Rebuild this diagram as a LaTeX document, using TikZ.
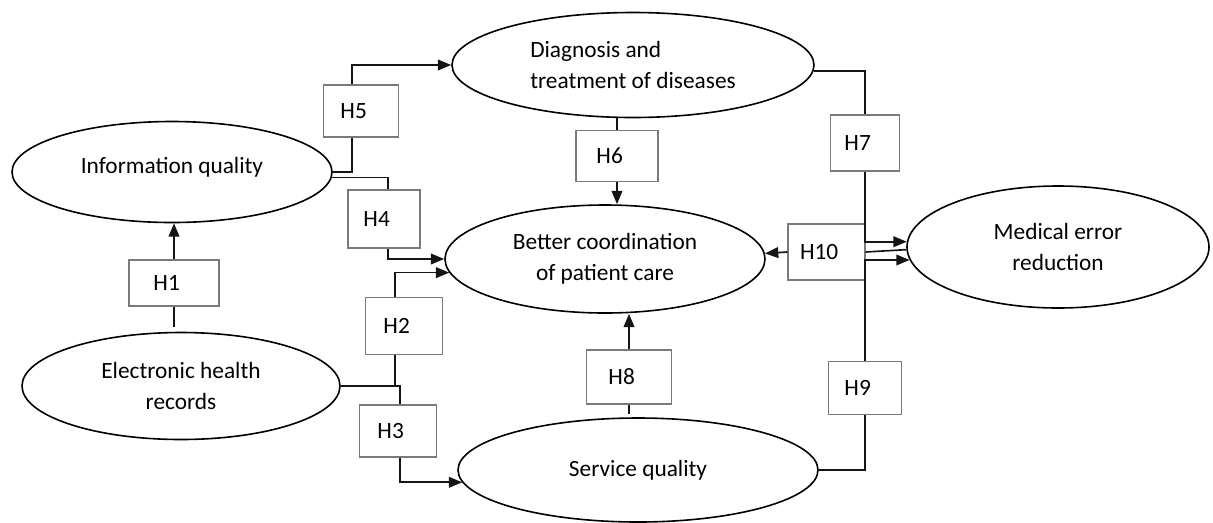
\documentclass[tikz,border=0pt]{standalone}
\usepackage{fontspec}
\setmainfont{Carlito}
\usetikzlibrary{shapes.geometric,arrows.meta,calc}
\definecolor{linec}{HTML}{151515}
\definecolor{boxc}{HTML}{7A7A7A}
\begin{document}
\begin{tikzpicture}[x=0.75pt,y=-0.75pt,
  ell/.style={ellipse,draw=black,line width=1.2pt,inner sep=0pt,align=center,font=\fontsize{17.5}{23}\selectfont},
  hbox/.style={rectangle,draw=boxc,line width=0.8pt,inner sep=0pt,font=\fontsize{17.5}{23}\selectfont,execute at end node={\hspace*{11pt}}},
  conn/.style={draw=linec,line width=1.25pt},
  arr/.style={conn,-{Triangle[length=10pt,width=8pt]}}]
\useasboundingbox (0,0) rectangle (1213,522);
% constructs
\node[ell,minimum width=240pt,minimum height=75.75pt] (iq) at (172,172) {\raisebox{10pt}{Information quality}};
\node[ell,minimum width=271.5pt,minimum height=78.75pt,align=left] (diag) at (633,65) {Diagnosis and\\treatment of diseases};
\node[ell,minimum width=240pt,minimum height=81pt] (bc) at (605,259) {Better coordination\\of patient care};
\node[ell,minimum width=226.5pt,minimum height=91.5pt] (med) at (1058,247) {Medical error\\reduction};
\node[ell,minimum width=238.5pt,minimum height=80.25pt] (ehr) at (181,386) {Electronic health\\records};
\node[ell,minimum width=270pt,minimum height=78pt] (sq) at (638,470) {Service quality};
% hypothesis boxes
\node[hbox,minimum width=67.5pt,minimum height=34.5pt] (h1) at (174,283) {H1};
\node[hbox,minimum width=57.75pt,minimum height=42.75pt] (h2) at (404,326) {H2};
\node[hbox,minimum width=57.75pt,minimum height=39pt] (h3) at (398,431) {H3};
\node[hbox,minimum width=54pt,minimum height=43.5pt] (h4) at (384,219) {H4};
\node[hbox,minimum width=56.25pt,minimum height=39pt] (h5) at (361,111) {H5};
\node[hbox,minimum width=61.5pt,minimum height=38.25pt] (h6) at (617,156) {H6};
\node[hbox,minimum width=51.75pt,minimum height=42pt] (h7) at (865,143) {H7};
\node[hbox,minimum width=63.75pt,minimum height=40.5pt] (h8) at (629,377) {H8};
\node[hbox,minimum width=54.75pt,minimum height=39.75pt] (h9) at (865,388) {H9};
\node[hbox,minimum width=57.75pt,minimum height=42pt] (h10) at (826.5,252) {H10};
% connectors
\draw[arr] (h1.north) -- (h1.north |- iq.south);
\draw[conn] (h1.south) -- ++(0,20);
\draw[conn] (iq.east) -| ($(h5.south)+(-9,0)$);
\draw[arr] ($(h5.north)+(-9,0)$) |- (diag.west);
\draw[conn] (iq.-2.5) -| ($(h4.north)+(4,0)$);
\draw[arr] ($(h4.south)+(4,0)$) |- (bc.west);
\draw[conn] (ehr.east) -| ($(h2.south)+(-9,0)$);
\draw[arr] ($(h2.north)+(-9,0)$) |- (bc.185.2);
\draw[conn] (ehr.east) -| ($(h3.north)+(2,0)$);
\draw[arr] ($(h3.south)+(2,0)$) |- (sq.184.3);
\draw[conn] (h6.north |- diag.south) -- (h6.north);
\draw[arr] (h6.south) -- (h6.south |- bc.north);
\draw[conn] (diag.-2.2) -| (h7.north);
\draw[arr] (h7.south) |- (med.178.1);
\draw[conn] (sq.east) -| (h9.south);
\draw[arr] (h9.north) |- (med.185);
\draw[conn] (med.181.9) -- (h10.east);
\draw[arr] (h10.west) -- (bc.2.5);
\draw[arr] (h8.north) -- (h8.north |- bc.south);
\draw[conn] (h8.south) -- ++(0,9);
\end{tikzpicture}
\end{document}
